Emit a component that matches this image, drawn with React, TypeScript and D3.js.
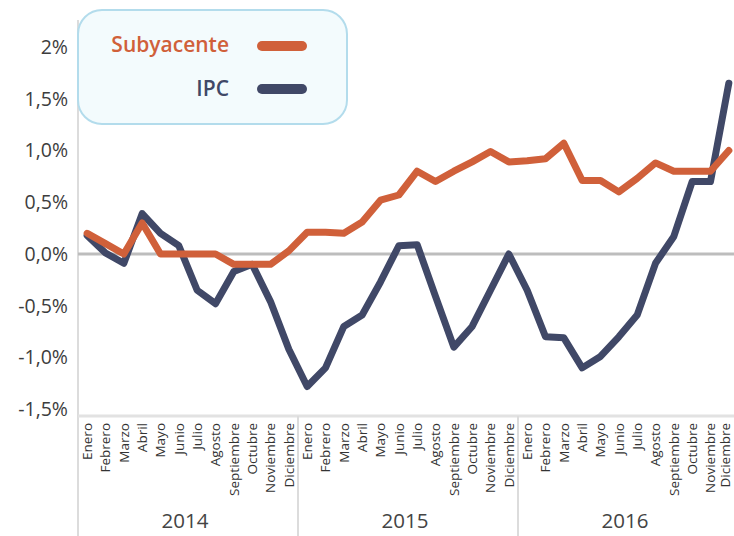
import React from "react";
import * as d3 from "d3";

const years = ["2014", "2015", "2016"];
const months = ["Enero", "Febrero", "Marzo", "Abril", "Mayo", "Junio", "Julio", "Agosto", "Septiembre", "Octubre", "Noviembre", "Diciembre"];
const subyacente = [
  0.2, 0.1, 0.0, 0.3, 0.0, 0.0, 0.0, 0.0, -0.1, -0.1, -0.1, 0.03,
  0.21, 0.21, 0.2, 0.31, 0.52, 0.57, 0.8, 0.7, 0.8, 0.89, 0.99, 0.89,
  0.9, 0.92, 1.07, 0.71, 0.71, 0.6, 0.73, 0.88, 0.8, 0.8, 0.8, 1.0,
];
const ipc = [
  0.18, 0.01, -0.09, 0.39, 0.2, 0.08, -0.35, -0.48, -0.17, -0.1, -0.46, -0.92,
  -1.28, -1.1, -0.7, -0.59, -0.27, 0.08, 0.09, -0.41, -0.9, -0.7, -0.35, 0.0,
  -0.35, -0.8, -0.81, -1.1, -0.99, -0.8, -0.59, -0.09, 0.17, 0.7, 0.7, 1.65,
];
const yTicks = [2, 1.5, 1.0, 0.5, 0, -0.5, -1.0, -1.5];
const yTickLabels = ["2%", "1,5%", "1,0%", "0,5%", "0,0%", "-0,5%", "-1,0%", "-1,5%"];
const seriesNames = ["Subyacente", "IPC"];

const W = 734, H = 536;
const ORANGE = "#d0603a";
const NAVY = "#404867";
const FONT = "'Open Sans', sans-serif";

export default function App() {
  const keys = years.flatMap((y) => months.map((m) => `${y}-${m}`));
  const x = d3.scaleBand<string>().domain(keys).range([78, 738]).paddingInner(0).paddingOuter(0);
  const y = d3.scaleLinear().domain([0, 2]).range([254, 47]);
  const cx = (i: number) => (x(keys[i]) as number) + x.bandwidth() / 2;
  const line = d3.line<number>().x((_, i) => cx(i)).y((d) => y(d));
  const yearScale = d3.scaleBand<string>().domain(years).range([78, 738]);

  return (
    <svg width={W} height={H} style={{ display: "block", position: "absolute", left: 0, top: 0, background: "#fff" }} fontFamily={FONT}>
      <style>{`body{margin:0}`}</style>
      {/* y axis line */}
      <line x1={78} x2={78} y1={20} y2={H} stroke="#dcdcdc" strokeWidth={2} />
      {/* x axis line */}
      <line x1={78} x2={W} y1={416} y2={416} stroke="#e2e2e2" strokeWidth={3} />
      {/* year separators */}
      {years.slice(1).map((yr) => (
        <line key={yr} x1={yearScale(yr)} x2={yearScale(yr)} y1={416} y2={H} stroke="#dcdcdc" strokeWidth={2} />
      ))}
      {/* zero line */}
      <line x1={78} x2={W} y1={y(0)} y2={y(0)} stroke="#bdbdbd" strokeWidth={3} />
      {/* y tick labels */}
      {yTicks.map((t, i) => (
        <text key={t} x={68} y={y(t)} dy="0.35em" textAnchor="end" fontSize={19.5} fill="#3d3d3d">
          {yTickLabels[i]}
        </text>
      ))}
      {/* month labels */}
      {keys.map((k, i) => (
        <text
          key={k}
          transform={`translate(${Math.min(cx(i), 725)},423) rotate(-90)`}
          dy="0.35em"
          textAnchor="end"
          fontSize={13.5}
          fill="#333"
        >
          {months[i % 12]}
        </text>
      ))}
      {/* year labels */}
      {years.map((yr) => (
        <text key={yr} x={(yearScale(yr) as number) + yearScale.bandwidth() / 2 - 3} y={528} textAnchor="middle" fontSize={20.5} fill="#444">
          {yr}
        </text>
      ))}
      {/* lines */}
      <path d={line(ipc) || ""} fill="none" stroke={NAVY} strokeWidth={7} strokeLinejoin="round" strokeLinecap="round" />
      <path d={line(subyacente) || ""} fill="none" stroke={ORANGE} strokeWidth={7} strokeLinejoin="round" strokeLinecap="round" />
      {/* legend */}
      <rect x={78} y={10} width={269} height={114} rx={24} ry={24} fill="#f3fbfd" stroke="#b3dcec" strokeWidth={2} />
      {seriesNames.map((s, i) => (
        <g key={s}>
          <text x={229} y={52 + i * 44} textAnchor="end" fontSize={21} fontWeight={600} fill={i === 0 ? ORANGE : NAVY}>
            {s}
          </text>
          <line x1={262} x2={302} y1={46 + i * 43} y2={46 + i * 43} stroke={i === 0 ? ORANGE : NAVY} strokeWidth={10} strokeLinecap="round" />
        </g>
      ))}
    </svg>
  );
}
